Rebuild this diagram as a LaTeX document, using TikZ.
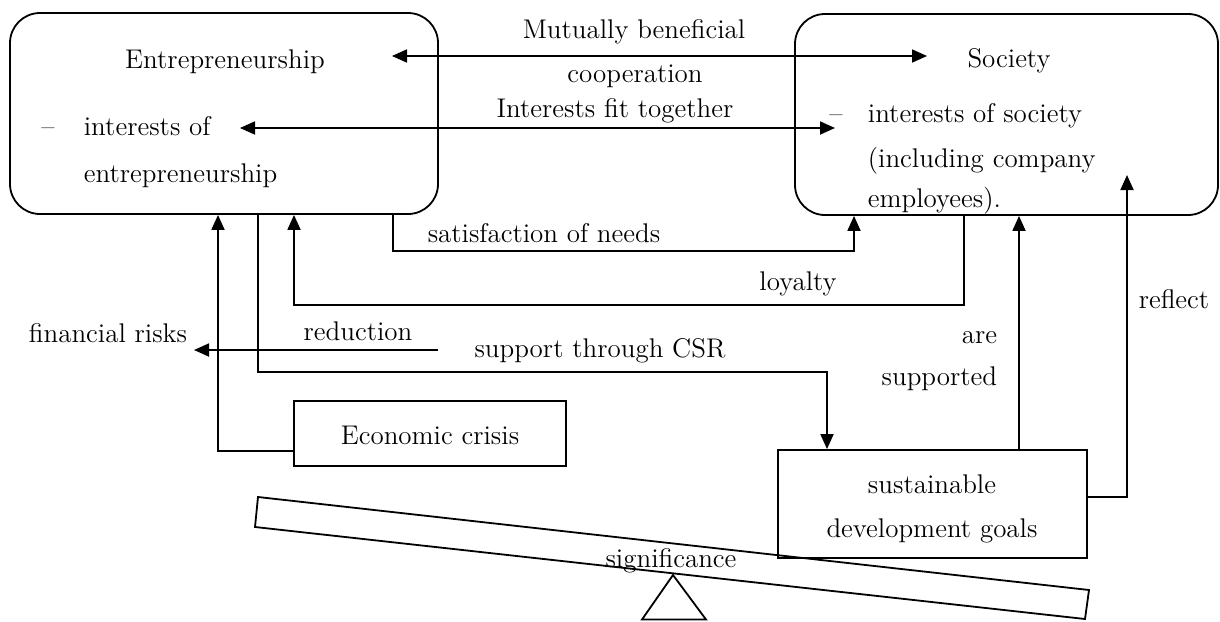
\documentclass[tikz,border=0pt]{standalone}
\usetikzlibrary{arrows.meta}
\begin{document}
\begin{tikzpicture}[x=0.5pt,y=-0.5pt,
  every path/.style={line width=0.9pt},
  rbox/.style={draw, rounded corners=15pt, inner sep=0pt},
  sbox/.style={draw, inner sep=0pt},
  txt/.style={font=\fontsize{13.5}{16}\selectfont, inner sep=0pt, anchor=base},
  arr/.style={-{Triangle[length=7.5pt,width=6.5pt]}},
  darr/.style={{Triangle[length=7.5pt,width=6.5pt]}-{Triangle[length=7.5pt,width=6.5pt]}}]
\useasboundingbox (0,0) rectangle (1220,621);
% boxes
\node[rbox, minimum width=214pt, minimum height=100.5pt] (E) at (224,113.5) {};
\node[rbox, minimum width=211.5pt, minimum height=100.5pt] (S) at (1006.5,114.5) {};
\node[sbox, minimum width=136pt, minimum height=32.5pt] (C) at (430,433.5) {};
\node[sbox, minimum width=154.5pt, minimum height=54pt] (G) at (932.5,504) {};
% texts in boxes
\node[txt] (tE) at (225,68) {Entrepreneurship};
\node[txt] (tEd) at (48,135) {--};
\node[txt, anchor=base west] (tE1) at (83,135) {interests of};
\node[txt, anchor=base west] (tE2) at (83,182) {entrepreneurship};
\node[txt] (tS) at (1009,67) {Society};
\node[txt] (tSd) at (836,122) {--};
\node[txt, anchor=base west] (tS1) at (867,122) {interests of society};
\node[txt, anchor=base west] (tS2) at (867,167) {(including company};
\node[txt, anchor=base west] (tS3) at (867,207) {employees).};
\node[txt] (tC) at (430,444) {Economic crisis};
\node[txt] (tG1) at (932,493) {sustainable};
\node[txt] (tG2) at (932,537) {development goals};
% labels
\node[txt] (l1) at (634,38) {Mutually beneficial};
\node[txt] (l2) at (635,82) {cooperation};
\node[txt] (l3) at (615,117) {Interests fit together};
\node[txt] (l4) at (544,242) {satisfaction of needs};
\node[txt] (l5) at (798,290) {loyalty};
\node[txt] (l6) at (358,340) {reduction};
\node[txt] (fin) at (108,342) {financial risks};
\node[txt] (l7) at (600,357) {support through CSR};
\node[txt, anchor=base east] (l8) at (998,343) {are};
\node[txt, anchor=base east] (l9) at (998,385) {supported};
\node[txt] (l10) at (1174,308) {reflect};
% coordinates
\coordinate (m1) at (392,56);
\coordinate (m2) at (927,56);
\coordinate (i1) at (240,128);
\coordinate (i2) at (835,128);
\coordinate (a1) at (393,251);
\coordinate (a2) at (854,251);
\coordinate (b1) at (964,305);
\coordinate (b2) at (294,305);
\coordinate (f1) at (438,350);
\coordinate (f2) at (194,350);
\coordinate (k1) at (258,372);
\coordinate (k2) at (827,372);
\coordinate (c1) at (218,451);
\coordinate (p1) at (1019,300);
\coordinate (r1) at (1127,497);
\coordinate (r2) at (1127,175);
% connectors
\draw[darr] (m1) -- (m2);
\draw[darr] (i1) -- (i2);
\draw[arr] (E.south -| a1) -- (a1) -- (a2) -- (S.south -| a2);
\draw[arr] (S.south -| b1) -- (b1) -- (b2) -- (E.south -| b2);
\draw[arr] (f1) -- (f2);
\draw[arr] (E.south -| k1) -- (k1) -- (k2) -- (G.north -| k2);
\draw[arr] (C.west |- c1) -- (c1) -- (E.south -| c1);
\draw[arr] (G.north -| p1) -- (S.south -| p1);
\draw[arr] (G.east |- r1) -- (r1) -- (r2);
% seesaw
\draw (258,497) -- (1089,590) -- (1085,619) -- (255,527) -- cycle;
\draw (673,575) -- (706,619.5) -- (642,619.5) -- cycle;
\node[txt] (sig) at (671,567) {significance};
\end{tikzpicture}
\end{document}
